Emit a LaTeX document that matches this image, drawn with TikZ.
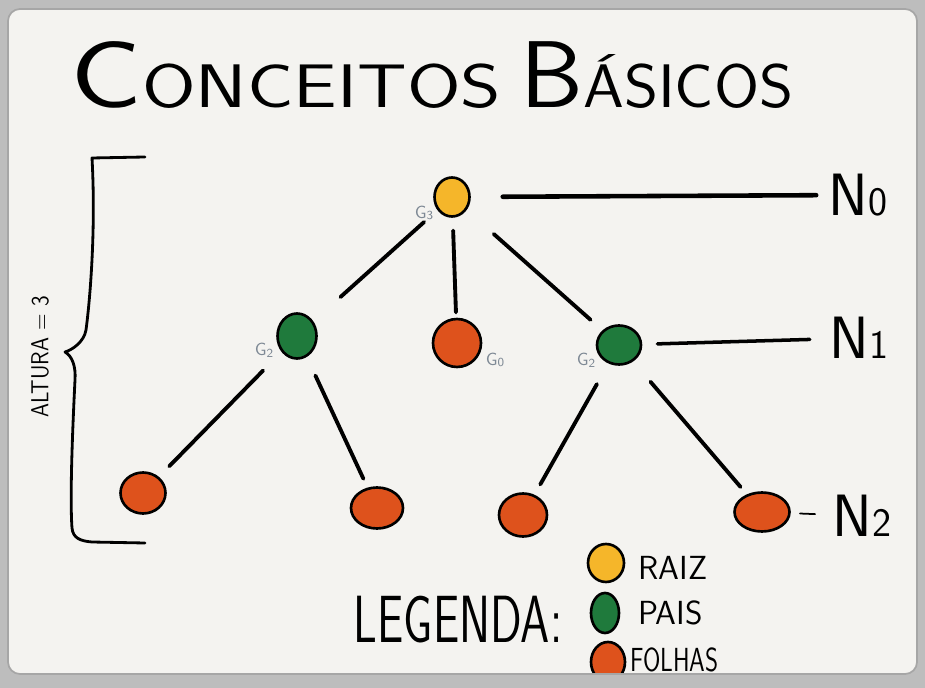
\documentclass[tikz,border=0pt]{standalone}
\usepackage{fontspec}
\usetikzlibrary{shapes.geometric,calc}

\definecolor{amarelo}{HTML}{F5B62A}
\definecolor{verde}{HTML}{1F7A3C}
\definecolor{laranja}{HTML}{DE521C}
\definecolor{cinzaG}{HTML}{7D8894}
\definecolor{papel}{HTML}{F4F3F0}
\definecolor{moldura}{HTML}{BDBDBD}

\tikzset{
  nodo/.style={ellipse, draw=black, line width=1.5pt, inner sep=0pt},
  raiz/.style={nodo, fill=amarelo},
  pai/.style={nodo, fill=verde},
  folha/.style={nodo, fill=laranja},
  aresta/.style={line width=2.2pt, line cap=round},
  nivel/.style={line cap=round},
  rotulo/.style={text=cinzaG, font=\sffamily\fontsize{10}{10}\selectfont, inner sep=0pt},
  nomenivel/.style={font=\sffamily\fontsize{34}{34}\selectfont, inner sep=0pt},
  legenda/.style={font=\sffamily\fontsize{19}{19}\selectfont\addfontfeature{LetterSpace=12}, inner sep=0pt, anchor=west},
}

\begin{document}
\begin{tikzpicture}[x=0.02cm, y=-0.02cm, font=\sffamily]

% Paper
\fill[papel] (0,0) rectangle (925,688);

% Title
\node[anchor=base west, inner sep=0pt] (titulo1) at (70,108)
  {\scalebox{1.26}[1]{\addfontfeature{LetterSpace=50}{\fontsize{54}{54}\selectfont C}{\fontsize{35}{35}\selectfont ONCEITOS}}};
\node[anchor=base west, inner sep=0pt] (titulo2) at (520,108)
  {\scalebox{1.06}[1]{\addfontfeature{LetterSpace=24}{\fontsize{54}{54}\selectfont B}{\fontsize{35}{35}\selectfont ÁSICOS}}};

% Tree nodes
\node[raiz, minimum width=0.7cm, minimum height=0.78cm] (r) at (452,197) {};
\node[pai, minimum width=0.78cm, minimum height=0.9cm] (pe) at (297,336) {};
\node[folha, minimum width=0.96cm, minimum height=0.96cm] (fm) at (457,343) {};
\node[pai, minimum width=0.88cm, minimum height=0.78cm] (pd) at (619,345) {};
\node[folha, minimum width=0.9cm, minimum height=0.82cm] (f1) at (143,493) {};
\node[folha, minimum width=1.04cm, minimum height=0.82cm] (f2) at (377,508) {};
\node[folha, minimum width=0.96cm, minimum height=0.86cm] (f3) at (523,515) {};
\node[folha, minimum width=1.1cm, minimum height=0.78cm] (f4) at (762,512) {};

% Edges (with gaps, as sketched)
\foreach \a/\b/\s/\e in {r/pe/0.18/0.72, r/fm/0.23/0.79, r/pd/0.25/0.83,
    pe/f1/0.22/0.83, pe/f2/0.23/0.83, pd/f3/0.23/0.82, pd/f4/0.22/0.85}
  \draw[aresta] ($(\a)!\s!(\b)$) -- ($(\a)!\e!(\b)$);

% Degree labels
\node[rotulo] (g3) at (424,213) {G\raisebox{-1pt}{\fontsize{7}{7}\selectfont 3}};
\node[rotulo] (g2e) at (264,350) {G\raisebox{-1pt}{\fontsize{7}{7}\selectfont 2}};
\node[rotulo] (g0) at (495,360) {G\raisebox{-1pt}{\fontsize{7}{7}\selectfont 0}};
\node[rotulo] (g2d) at (586,360) {G\raisebox{-1pt}{\fontsize{7}{7}\selectfont 2}};

% Levels
\node[nomenivel] (n0) at (858,195) {N{\fontsize{23}{23}\selectfont 0}};
\node[nomenivel] (n1) at (859,338) {N{\fontsize{23}{23}\selectfont 1}};
\node[nomenivel] (n2) at (862,516) {N{\fontsize{23}{23}\selectfont 2}};
\draw[nivel, line width=2.6pt] ($(r)!0.125!(n0)$) -- ($(r)!0.897!(n0)$);
\draw[nivel, line width=2pt] ($(pd)!0.16!(n1)$) -- ($(pd)!0.795!(n1)$);
\draw[nivel, line width=1pt] ($(f4)!0.38!(n2)$) -- ($(f4)!0.53!(n2)$);

% Height brace
\draw[line width=1.6pt, line cap=round, line join=round]
  (145,157) -- (92,158) .. controls (96,230) and (90,300) .. (86,330)
  .. controls (84,342) and (72,350) .. (65,352)
  .. controls (72,356) and (76,366) .. (75,380)
  .. controls (72,440) and (70,500) .. (72,528)
  .. controls (73,538) and (80,541) .. (92,542) -- (145,543);
\node[rotate=90, inner sep=0pt] (altura) at (40,357)
  {\scalebox{0.88}[1]{\fontsize{14}{14}\selectfont ALTURA = 3}};

% Legend
\node[inner sep=0pt] (leg) at (458,620)
  {\scalebox{0.7}[1]{\fontsize{38}{38}\selectfont LEGENDA:}};
\node[raiz, minimum width=0.72cm, minimum height=0.76cm] (lr) at (606,563) {};
\node[pai, minimum width=0.56cm, minimum height=0.8cm] (lp) at (605,613) {};
\node[folha, minimum width=0.68cm, minimum height=0.8cm] (lf) at (608,662) {};
\node[legenda] (traiz) at (638,568) {RAIZ};
\node[legenda] (tpais) at (638,613) {PAIS};
\node[legenda] (tfolhas) at (630,660) {\scalebox{0.75}[1]{FOLHAS}};

% Frame
\fill[moldura, even odd rule] (0,0) rectangle (925,688)
  [rounded corners=0.24cm] (8,9) rectangle (917,674);
\draw[black!35, line width=1pt, rounded corners=0.24cm] (8,9) rectangle (917,674);

\end{tikzpicture}
\end{document}
